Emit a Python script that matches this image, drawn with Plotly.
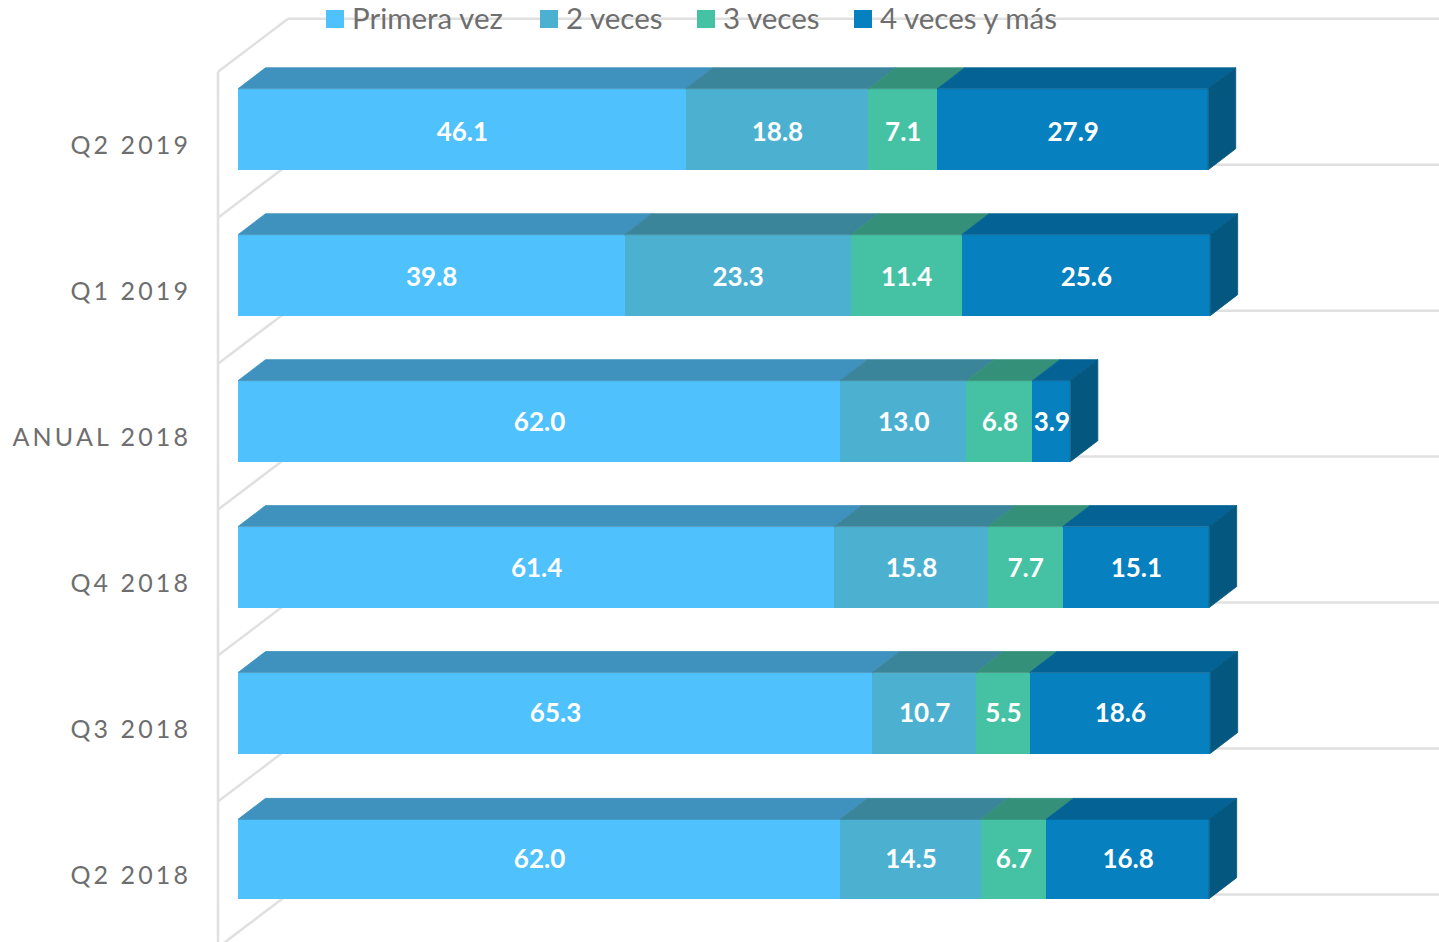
import plotly.graph_objects as go

categories = ["Q2 2018", "Q3 2018", "Q4 2018", "ANUAL 2018", "Q1 2019", "Q2 2019"]
series_names = ["Primera vez", "2 veces", "3 veces", "4 veces y más"]
primera_vez = [62.0, 65.3, 61.4, 62.0, 39.8, 46.1]
dos_veces = [14.5, 10.7, 15.8, 13.0, 23.3, 18.8]
tres_veces = [6.7, 5.5, 7.7, 6.8, 11.4, 7.1]
cuatro_veces = [16.8, 18.6, 15.1, 3.9, 25.6, 27.9]
series_values = [primera_vez, dos_veces, tres_veces, cuatro_veces]
front_colors = ["#4FC1FC", "#4CB1D1", "#45C2A4", "#0680BF"]
top_colors = ["#3F92BD", "#3B859B", "#359079", "#046394"]
side_color = "#04587F"
grid_color = "#E0E0E0"
text_grey = "#6E6E6E"

W, H = 1439, 942
LEFT = 200
PX_PER_UNIT = 9.712
PX_PER_ROW = 145.95
ZERO_PX = 238
ROW0_PX = 859.0
xr = [(LEFT - ZERO_PX) / PX_PER_UNIT, (W - ZERO_PX) / PX_PER_UNIT]
yr = [(ROW0_PX - H) / PX_PER_ROW, ROW0_PX / PX_PER_ROW]
DX = 27.5 / PX_PER_UNIT
DY = 21 / PX_PER_ROW
rows = list(range(len(categories)))
bar_w = [0.543, 0.555, 0.555, 0.555, 0.555, 0.555]

fig = go.Figure()
for name, vals, col in zip(series_names, series_values, front_colors):
    fig.add_trace(go.Bar(
        y=rows, x=vals, orientation="h", name=name, width=bar_w,
        marker=dict(color=col, line=dict(width=0)),
        showlegend=False, hoverinfo="skip",
    ))

cum = [0.0] * len(rows)
lx_all, ly_all, lt_all = [], [], []
for vals, col in zip(series_values, top_colors):
    xs, ys = [], []
    for r in rows:
        a, b = cum[r], cum[r] + vals[r]
        t = r + bar_w[r] / 2
        xs += [a, b, b + DX, a + DX, a, None]
        ys += [t, t, t + DY, t + DY, t, None]
        cum[r] = b
        lx_all.append((a + b) / 2 + 0.05)
        ly_all.append(r + (1 - 0.55 * r - 3) / PX_PER_ROW)
        lt_all.append(f"{vals[r]:.1f}")
    fig.add_trace(go.Scatter(x=xs, y=ys, mode="lines", fill="toself", fillcolor=col,
                             line=dict(width=0.8, color=col), showlegend=False, hoverinfo="skip"))
xs, ys = [], []
for r in rows:
    b, t, u = cum[r], r + bar_w[r] / 2, r - bar_w[r] / 2
    xs += [b, b + DX, b + DX, b, b, None]
    ys += [t, t + DY, u + DY, u, t, None]
fig.add_trace(go.Scatter(x=xs, y=ys, mode="lines", fill="toself", fillcolor=side_color,
                         line=dict(width=0.8, color=side_color), showlegend=False, hoverinfo="skip"))
fig.add_trace(go.Scatter(x=lx_all, y=ly_all, text=lt_all, mode="text", textposition="middle center",
                         textfont=dict(family="Lato", size=26, color="white", weight="bold"),
                         showlegend=False, hoverinfo="skip"))

# chart walls, behind the bars
shapes = []
WALL_X = -20 / PX_PER_UNIT
BACK_X = 50 / PX_PER_UNIT
BACK_DY = 53 / PX_PER_ROW
gl = dict(color=grid_color, width=2.5)
FRONT = 0.394
for i in range(-1, 6):
    f = i + FRONT
    shapes.append(dict(type="line", layer="below", xref="x", yref="y", x0=WALL_X, y0=f,
                       x1=BACK_X, y1=f + BACK_DY, line=gl))
    shapes.append(dict(type="line", layer="below", xref="x", yref="y", x0=BACK_X, y0=f + BACK_DY,
                       x1=xr[1], y1=f + BACK_DY, line=gl))
shapes.append(dict(type="line", layer="below", xref="x", yref="y", x0=WALL_X, y0=5 + FRONT,
                   x1=WALL_X, y1=yr[0], line=gl))

# legend
legend_px = [326, 540, 697, 854]
px = lambda p: (p - LEFT) / (W - LEFT)
py = lambda p: (H - p) / H
annotations = []
for name, col, lx in zip(series_names, front_colors, legend_px):
    shapes.append(dict(type="rect", xref="paper", yref="paper", x0=px(lx), x1=px(lx + 18),
                       y0=py(28), y1=py(10), fillcolor=col, line=dict(width=0), layer="above"))
    annotations.append(dict(text=name, xref="paper", yref="paper", x=px(lx + 24), y=py(18),
                            xanchor="left", yanchor="middle", showarrow=False,
                            font=dict(family="Lato", size=29.5, color=text_grey)))

fig.update_layout(
    width=W, height=H, margin=dict(l=LEFT, r=0, t=0, b=0),
    barmode="stack", paper_bgcolor="white", plot_bgcolor="white",
    showlegend=False, shapes=shapes, annotations=annotations,
    xaxis=dict(range=xr, visible=False, fixedrange=True),
    yaxis=dict(range=yr, showgrid=False, zeroline=False, showline=False, ticks="",
               tickvals=[r - 0.112 for r in rows], ticktext=categories,
               ticklabelstandoff=8, fixedrange=True,
               tickfont=dict(family="Lato", size=25, color=text_grey)),
)
post = """
var s=document.createElement('style');
s.textContent='body{margin:0!important;overflow:hidden} .ytick text{letter-spacing:3.1px}';
document.head.appendChild(s);
"""
fig.write_html("out.html", post_script=post, config={"displayModeBar": False})
